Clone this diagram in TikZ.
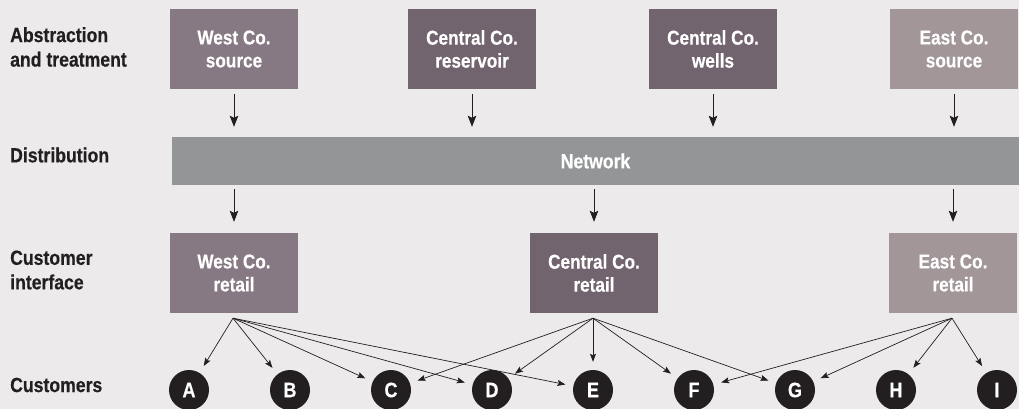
\documentclass[tikz,border=0pt]{standalone}
\usepackage{fontspec}
\setmainfont{Liberation Sans}[FakeStretch=0.86, BoldFeatures={FakeBold=0.4}]
\usetikzlibrary{arrows.meta,calc}
\definecolor{bgc}{HTML}{ECEAEB}
\definecolor{westc}{HTML}{877983}
\definecolor{centc}{HTML}{72646F}
\definecolor{eastc}{HTML}{A29699}
\definecolor{netc}{HTML}{939597}
\definecolor{ink}{HTML}{231F20}
\begin{document}
\begin{tikzpicture}[x=1pt,y=-1pt,
  box/.style={rectangle, minimum width=128pt, minimum height=80pt, inner sep=0pt,
    text=white, align=center, font=\bfseries\fontsize{20}{23}\selectfont},
  rowlabel/.style={anchor=west, align=left, text=ink, inner sep=0pt,
    font=\bfseries\fontsize{20.5}{24.5}\selectfont},
  cust/.style={circle, fill=ink, minimum size=40pt, inner sep=0pt, text=white,
    font=\bfseries\fontsize{21}{24}\selectfont},
  bigarrow/.style={draw=ink, line width=0.8pt, -{Stealth[length=11pt,width=8.5pt,inset=2pt]}},
  fanarrow/.style={draw=ink, line width=0.7pt, -{Stealth[length=8pt,width=6pt,inset=1.5pt]}, shorten >=8pt}
]
\fill[bgc] (0,0) rectangle (1019,409);
\useasboundingbox (0,0) rectangle (1019,409);

% row labels
\node[rowlabel] (l1) at (10,47) {Abstraction\\and treatment};
\node[rowlabel] (l2) at (10,155) {Distribution};
\node[rowlabel] (l3) at (10,270) {Customer\\interface};
\node[rowlabel] (l4) at (10,385) {Customers};

% top boxes
\node[box, fill=westc] (ws) at (234,49) {West Co.\\source};
\node[box, fill=centc] (cr) at (472,49) {Central Co.\\reservoir};
\node[box, fill=centc] (cw) at (713,49) {Central Co.\\wells};
\node[box, fill=eastc] (es) at (954,49) {East Co.\\source};

% network bar
\node[rectangle, fill=netc, minimum width=847pt, minimum height=48pt, inner sep=0pt,
  text=white, font=\bfseries\fontsize{20.5}{23}\selectfont] (net) at (595.5,161) {Network};

% retail boxes
\node[box, fill=westc] (wr) at (234,273) {West Co.\\retail};
\node[box, fill=centc] (cre) at (594,273) {Central Co.\\retail};
\node[box, fill=eastc] (er) at (953,273) {East Co.\\retail};

% customers
\foreach \n [count=\i from 0] in {A,B,C,D,E,F,G,H,I}
  \node[cust] (\n) at (189+101*\i,390) {\n};

% arrows top -> network
\foreach \b in {ws,cr,cw,es}
  \draw[bigarrow, shorten <=5pt, shorten >=10pt] (\b.south) -- (\b.south |- net.north);
% arrows network -> retail
\foreach \b in {wr,cre,er}
  \draw[bigarrow, shorten <=4pt, shorten >=11pt] (\b.north |- net.south) -- (\b.north);

% fan origins
\coordinate (wo) at ($(wr.south)+(-1,5)$);
\coordinate (co) at ($(cre.south)+(-1,5)$);
\coordinate (eo) at ($(er.south)+(-1,5)$);

\foreach \c in {A,B,C,D,E} \draw[fanarrow] (wo) -- (\c);
\foreach \c in {C,D,E,F,G} \draw[fanarrow] (co) -- (\c);
\foreach \c in {F,G,H,I} \draw[fanarrow] (eo) -- (\c);
\end{tikzpicture}
\end{document}
